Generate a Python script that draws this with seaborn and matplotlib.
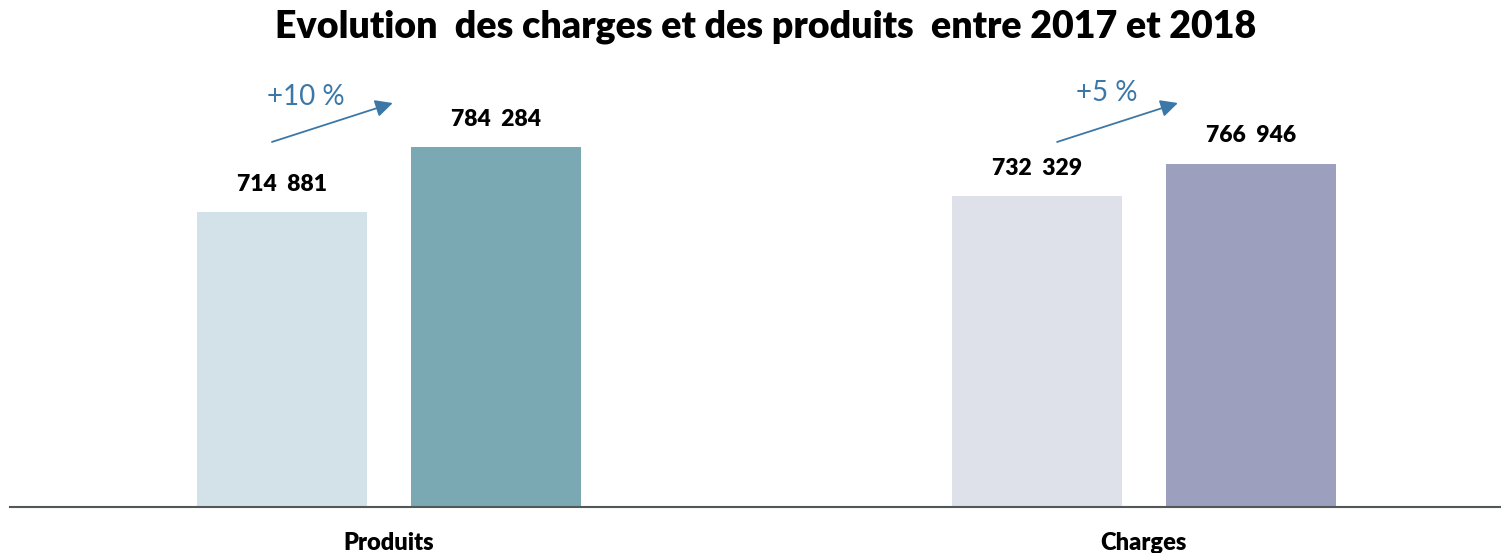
import pandas as pd
import matplotlib.pyplot as plt
import seaborn as sns

categories = ["Produits", "Charges"]
years = ["2017", "2018"]
values_2017 = [714881, 732329]
values_2018 = [784284, 766946]
evolutions = ["+10 %", "+5 %"]

df = pd.DataFrame({
    "Catégorie": categories * 2,
    "Année": [years[0]] * 2 + [years[1]] * 2,
    "Montant": values_2017 + values_2018,
})

bar_colors = {
    ("Produits", "2017"): "#d3e2e8",
    ("Produits", "2018"): "#7aa9b4",
    ("Charges", "2017"): "#dee0ea",
    ("Charges", "2018"): "#9d9fbf",
}

sns.set_style("white")
plt.rcParams["font.family"] = ["Lato", "DejaVu Sans"]
plt.rcParams["text.color"] = "black"
plt.rcParams["xtick.color"] = "black"

fig = plt.figure(figsize=(15.01, 5.53), dpi=100)
ax = fig.add_axes([10 / 1501, 46 / 553, 1491 / 1501, 468 / 553])

sns.barplot(data=df, x="Catégorie", y="Montant", hue="Année", order=categories,
            hue_order=years, width=0.568, gap=0.208, palette=["#cccccc", "#999999"],
            legend=False, ax=ax)

for cont, year in zip(ax.containers, years):
    for bar, cat in zip(cont, categories):
        bar.set_facecolor(bar_colors[(cat, year)])
        bar.set_edgecolor("none")
        h = bar.get_height()
        ax.annotate(f"{int(h):,}".replace(",", "  "),
                    (bar.get_x() + bar.get_width() / 2, h),
                    xytext=(0, 20), textcoords="offset points",
                    ha="center", va="center", fontsize=16.5, fontweight="heavy")

# flèches d'évolution
arrow_start = [(-0.155, 790000), (-0.115, 790000)]
arrow_end = [(0.005, 831600), (0.045, 831600)]
label_pos = [(-0.110, 838000), (-0.049, 842300)]
for i, txt in enumerate(evolutions):
    ax.annotate("", xy=(i + arrow_end[i][0], arrow_end[i][1]),
                xytext=(i + arrow_start[i][0], arrow_start[i][1]),
                arrowprops=dict(arrowstyle="-|>", color="#3b78a8", lw=1.3,
                                mutation_scale=26, shrinkA=0, shrinkB=0))
    ax.text(i + label_pos[i][0], label_pos[i][1], txt, ha="center", va="center",
            fontsize=20, color="#3b78a8")

ax.set_ylim(400000, 900000)
ax.set_xlim(-0.502, 1.473)
ax.set_xlabel("")
ax.set_ylabel("")
ax.set_yticks([])
ax.tick_params(axis="x", length=0, pad=18, labelsize=17)
for lbl in ax.get_xticklabels():
    lbl.set_fontweight("heavy")
for s in ["top", "left", "right"]:
    ax.spines[s].set_visible(False)
ax.spines["bottom"].set_color("#505858")
ax.spines["bottom"].set_linewidth(1.5)

fig.suptitle("Evolution  des charges et des produits  entre 2017 et 2018",
             fontsize=27, fontweight="heavy", x=766 / 1501, y=1 - 27 / 553, va="center")

fig.savefig("out.png", dpi=100)
